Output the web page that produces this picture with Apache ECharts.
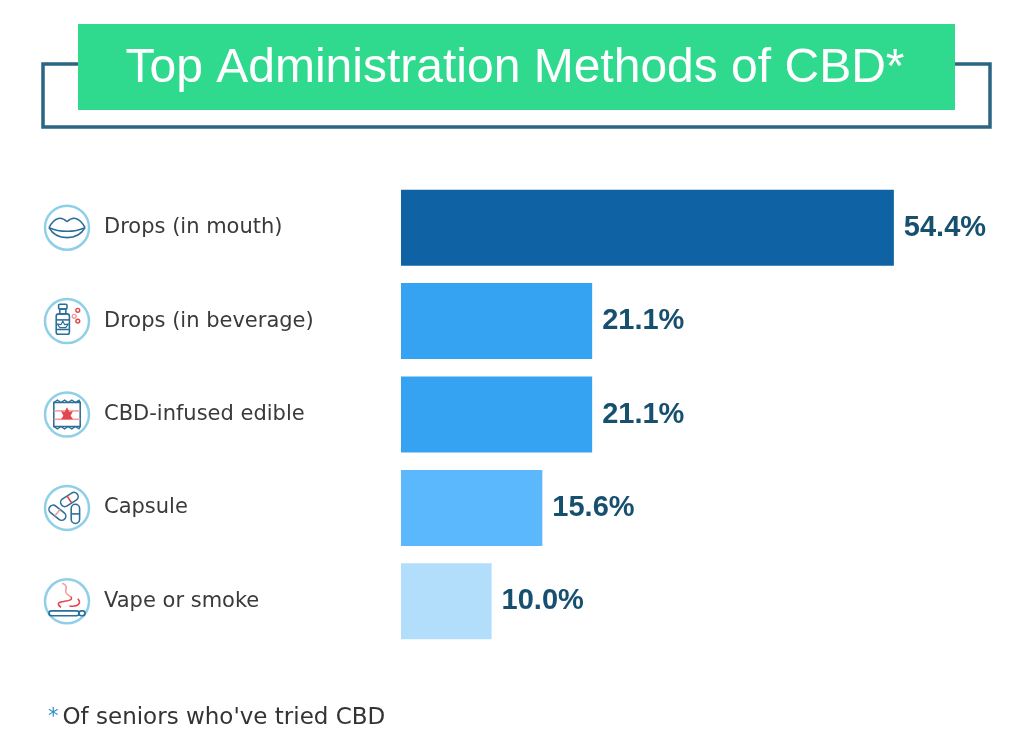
<!DOCTYPE html>
<html>
<head>
<meta charset="utf-8">
<title>Top Administration Methods of CBD</title>
<script src="https://cdn.jsdelivr.net/npm/echarts@6/dist/echarts.min.js"></script>
<style>
html, body { margin: 0; padding: 0; background: #fff; }
#chart { width: 1024px; height: 750px; }
</style>
</head>
<body>
<div id="chart"></div>
<script>
// data
var categories = ['Drops (in mouth)', 'Drops (in beverage)', 'CBD-infused edible', 'Capsule', 'Vape or smoke'];
var shares = [54.4, 21.1, 21.1, 15.6, 10.0];
var iconKeys = ['lips', 'bottle', 'packet', 'capsule', 'smoke'];
var titleText = 'Top Administration Methods of CBD*';
var noteText = "Of seniors who've tried CBD";

// styles
var barColors = ['#0F63A4', '#35A3F2', '#35A3F2', '#5CB8FC', '#B3DEFB'];
var DARK = '#2B6F97';
var RED = '#E2474D';
var PINK = '#F29A9D';
var RING = '#8FD0E8';

var chart = echarts.init(document.getElementById('chart'));

function line(style) {
    return Object.assign({ fill: 'none', stroke: DARK, lineWidth: 1.3 }, style || {});
}

// small line icons, drawn around (0,0)
function iconChildren(key) {
    if (key === 'lips') {
        return [
            { type: 'bezierCurve', shape: { x1: -15, y1: 0, x2: 0, y2: -5, cpx1: -10, cpy1: -10, cpx2: -4, cpy2: -9 }, style: line() },
            { type: 'bezierCurve', shape: { x1: 0, y1: -5, x2: 15, y2: 0, cpx1: 4, cpy1: -9, cpx2: 10, cpy2: -10 }, style: line() },
            { type: 'bezierCurve', shape: { x1: -15, y1: 0, x2: 15, y2: 0, cpx1: -9, cpy1: 11, cpx2: 9, cpy2: 11 }, style: line() },
            { type: 'bezierCurve', shape: { x1: -15, y1: 0, x2: 15, y2: 0, cpx1: -6, cpy1: 4, cpx2: 6, cpy2: 4 }, style: line() }
        ];
    }
    if (key === 'bottle') {
        return [
            { type: 'rect', shape: { x: -7, y: -14, width: 7, height: 4, r: 1 }, style: line() },
            { type: 'rect', shape: { x: -6, y: -10, width: 5, height: 4 }, style: line() },
            { type: 'rect', shape: { x: -9, y: -6, width: 11, height: 17, r: 2 }, style: line() },
            { type: 'line', shape: { x1: -9, y1: -1, x2: 2, y2: -1 }, style: line() },
            { type: 'line', shape: { x1: -9, y1: 7, x2: 2, y2: 7 }, style: line() },
            { type: 'polygon', shape: { points: [[-3.5, 0], [-2, 3], [1, 2.5], [-1, 5.5], [-6, 5.5], [-8, 2.5], [-5, 3]] }, style: { fill: 'none', stroke: DARK, lineWidth: 1 } },
            { type: 'circle', shape: { cx: 9, cy: -9, r: 1.6 }, style: { fill: 'none', stroke: RED, lineWidth: 1.2 } },
            { type: 'circle', shape: { cx: 6, cy: -4, r: 1.6 }, style: { fill: 'none', stroke: PINK, lineWidth: 1.2 } },
            { type: 'circle', shape: { cx: 9, cy: 0, r: 1.6 }, style: { fill: 'none', stroke: RED, lineWidth: 1.2 } }
        ];
    }
    if (key === 'packet') {
        return [
            { type: 'polyline', shape: { points: [[-11, -10], [-8, -12], [-5, -10], [-2, -12], [1, -10], [4, -12], [7, -10], [10, -12], [11, -10]] }, style: line({ lineWidth: 1.1 }) },
            { type: 'polyline', shape: { points: [[-11, 10], [-8, 12], [-5, 10], [-2, 12], [1, 10], [4, 12], [7, 10], [10, 12], [11, 10]] }, style: line({ lineWidth: 1.1 }) },
            { type: 'rect', shape: { x: -11, y: -10, width: 22, height: 20 }, style: line() },
            { type: 'line', shape: { x1: -11, y1: -3, x2: 11, y2: -3 }, style: line({ stroke: PINK }) },
            { type: 'line', shape: { x1: -11, y1: 4, x2: 11, y2: 4 }, style: line({ stroke: PINK }) },
            { type: 'polygon', shape: { points: [[0, -6], [2, -2], [5, -3], [3, 1], [5, 4], [-5, 4], [-3, 1], [-5, -3], [-2, -2]] }, style: { fill: RED } }
        ];
    }
    if (key === 'capsule') {
        return [
            { type: 'rect', x: 2, y: -7, rotation: -1.0, shape: { x: -3.5, y: -8, width: 7, height: 16, r: 3.5 }, style: line() },
            { type: 'line', x: 2, y: -7, rotation: -1.0, shape: { x1: -3.5, y1: 0, x2: 3.5, y2: 0 }, style: line({ stroke: RED }) },
            { type: 'rect', x: -8, y: 4, rotation: 0.9, shape: { x: -3.5, y: -8, width: 7, height: 16, r: 3.5 }, style: line() },
            { type: 'line', x: -8, y: 4, rotation: 0.9, shape: { x1: -3.5, y1: 0, x2: 3.5, y2: 0 }, style: line({ stroke: PINK }) },
            { type: 'rect', x: 7, y: 5, shape: { x: -3.5, y: -8, width: 7, height: 16, r: 3.5 }, style: line() },
            { type: 'line', x: 7, y: 5, shape: { x1: -3.5, y1: 0, x2: 3.5, y2: 0 }, style: line() }
        ];
    }
    // smoke
    return [
        { type: 'rect', shape: { x: -15, y: 8, width: 25, height: 4, r: 2 }, style: line() },
        { type: 'rect', shape: { x: 10, y: 8, width: 5, height: 4, r: 2 }, style: line() },
        { type: 'bezierCurve', shape: { x1: -5, y1: 5, x2: 3, y2: -4, cpx1: -14, cpy1: -2, cpx2: 8, cpy2: 2 }, style: line({ stroke: RED }) },
        { type: 'bezierCurve', shape: { x1: 3, y1: -4, x2: -4, y2: -15, cpx1: -6, cpy1: -8, cpx2: 4, cpy2: -12 }, style: line({ stroke: PINK }) },
        { type: 'bezierCurve', shape: { x1: 2, y1: 4, x2: 9, y2: -2, cpx1: 10, cpy1: 5, cpx2: 12, cpy2: 1 }, style: line({ stroke: RED }) }
    ];
}

var baseGraphic = [
    // outline frame behind the title box
    {
        type: 'polyline', z: 1,
        shape: { points: [[80, 64], [43, 64], [43, 127], [990, 127], [990, 64], [953, 64]] },
        style: { fill: 'none', stroke: '#2C6483', lineWidth: 3.5 }
    },
    {
        type: 'rect', z: 2,
        shape: { x: 78, y: 24, width: 877, height: 86 },
        style: { fill: '#2FDA8E' }
    },
    {
        type: 'text', z: 3, x: 515, y: 69,
        style: {
            text: titleText, fill: '#fff', font: 'normal 48px "Liberation Sans", Arial, sans-serif',
            align: 'center', verticalAlign: 'middle'
        }
    },
    {
        type: 'text', z: 3, x: 48, y: 718,
        style: {
            text: '{a|*}{b|' + noteText + '}',
            verticalAlign: 'middle',
            rich: {
                a: { fill: '#2E8FC0', fontSize: 21, fontFamily: 'DejaVu Sans', padding: [0, 4, 0, 0] },
                b: { fill: '#333', fontSize: 23, fontFamily: 'DejaVu Sans' }
            }
        }
    }
];

var option = {
    backgroundColor: '#fff',
    animation: false,
    grid: { left: 401, top: 181, width: 543.6, height: 467 },
    xAxis: { type: 'value', min: 0, max: 60, show: false },
    yAxis: {
        type: 'category',
        data: categories,
        inverse: true,
        axisLine: { show: false },
        axisTick: { show: false },
        axisLabel: {
            align: 'left', margin: 297,
            fontFamily: 'DejaVu Sans', fontSize: 21, color: '#3A3A3A'
        }
    },
    series: [{
        type: 'bar',
        barWidth: 76,
        data: shares.map(function (v, i) {
            return { value: v, itemStyle: { color: barColors[i] } };
        }),
        label: {
            show: true, position: 'right', distance: 10,
            fontFamily: '"Liberation Sans", Arial, sans-serif', fontWeight: 'bold', fontSize: 29,
            color: '#17506F',
            formatter: function (p) { return p.value.toFixed(1) + '%'; }
        }
    }],
    graphic: baseGraphic
};

chart.setOption(option);

// icons sit on each category's row, positioned with the axis scale
var icons = categories.map(function (c, i) {
    var y = chart.convertToPixel({ yAxisIndex: 0 }, c);
    return {
        type: 'group', x: 67, y: y, z: 3,
        children: [
            { type: 'circle', shape: { cx: 0, cy: 0, r: 22 }, style: { fill: '#fff', stroke: RING, lineWidth: 2.5 } },
            { type: 'group', scaleX: 1.2, scaleY: 1.2, children: iconChildren(iconKeys[i]) }
        ]
    };
});

chart.setOption({ graphic: baseGraphic.concat(icons) });
</script>
</body>
</html>
